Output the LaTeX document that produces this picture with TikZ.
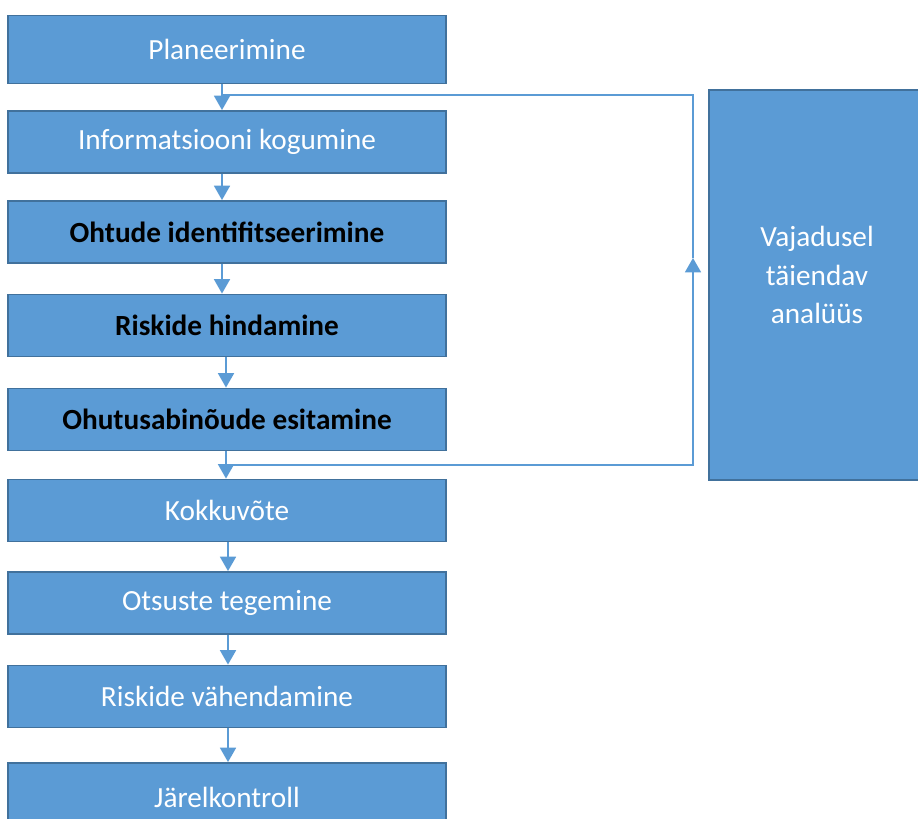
\documentclass[tikz,border=0pt]{standalone}
\usepackage{fontspec}
\setmainfont{Carlito}
\usetikzlibrary{positioning,arrows.meta,calc}
\definecolor{boxfill}{HTML}{5B9BD5}
\definecolor{boxline}{HTML}{41719C}
\tikzset{
  stage/.style  = {draw=boxline, fill=boxfill, line width=1.3pt, minimum width=10.95cm,
                   minimum height=1.55cm, text=white, font=\fontsize{20.8}{24}\selectfont},
  hot/.style    = {stage, text=black, font=\fontsize{20.8}{24}\selectfont\bfseries},
  side/.style   = {draw=boxline, fill=boxfill, line width=1.3pt, minimum width=5.4cm,
                   minimum height=9.75cm},
  sidetext/.style = {text=white, align=center, font=\fontsize{20.8}{27.4}\selectfont},
  arrow/.style  = {draw=boxfill, line width=1.2pt, -{Triangle[width=0.4cm,length=0.36cm]}},
  line/.style   = {draw=boxfill, line width=1.2pt},
}
\begin{document}
\begin{tikzpicture}[x=0.025cm, y=-0.025cm]
  \useasboundingbox (0,0) rectangle (918,819);
  \node[stage, minimum height=1.7cm] (plan) at (227,49.5) {Planeerimine};
  \node[stage] (info) at (227,142) {Informatsiooni kogumine};
  \node[hot] (ohud) at (227,232) {Ohtude identifitseerimine};
  \node[hot] (risk) at (227,325.5) {Riskide hindamine};
  \node[hot] (abin) at (227,419.5) {Ohutusabinõude esitamine};
  \node[stage] (kokku) at (227,510.5) {Kokkuvõte};
  \node[stage] (otsus) at (227,603) {Otsuste tegemine};
  \node[stage] (vahend) at (227,696.5) {Riskide vähendamine};
  \node[stage, minimum height=1.7cm] (jarel) at (227,797) {Järelkontroll};
  \node[side] (vaj) at (817,285) {};
  \node[sidetext] (vajtxt) at ([yshift=0.25cm]vaj.center) {Vajadusel\\täiendav\\analüüs};
  % main chain
  \draw[arrow] ([xshift=-0.125cm]plan.south) -- ([xshift=-0.125cm]info.north);
  \draw[arrow] ([xshift=-0.125cm]info.south) -- ([xshift=-0.125cm]ohud.north);
  \draw[arrow] ([xshift=-0.125cm]ohud.south) -- ([xshift=-0.125cm]risk.north);
  \draw[arrow] ([xshift=-0.025cm]risk.south) -- ([xshift=-0.025cm]abin.north);
  \draw[arrow] ([xshift=-0.025cm]abin.south) -- ([xshift=-0.025cm]kokku.north);
  \draw[arrow] ([xshift=0.025cm]kokku.south) -- ([xshift=0.025cm]otsus.north);
  \draw[arrow] ([xshift=0.025cm]otsus.south) -- ([xshift=0.025cm]vahend.north);
  \draw[arrow] ([xshift=0.025cm]vahend.south) -- ([xshift=0.025cm]jarel.north);
  % feedback loop
  \coordinate (topj) at (222,95);
  \coordinate (botj) at (226,465);
  \coordinate (loopup) at (693,258);
  \draw[arrow] (botj) -| (loopup);
  \draw[line] (loopup) |- (topj);
\end{tikzpicture}
\end{document}
